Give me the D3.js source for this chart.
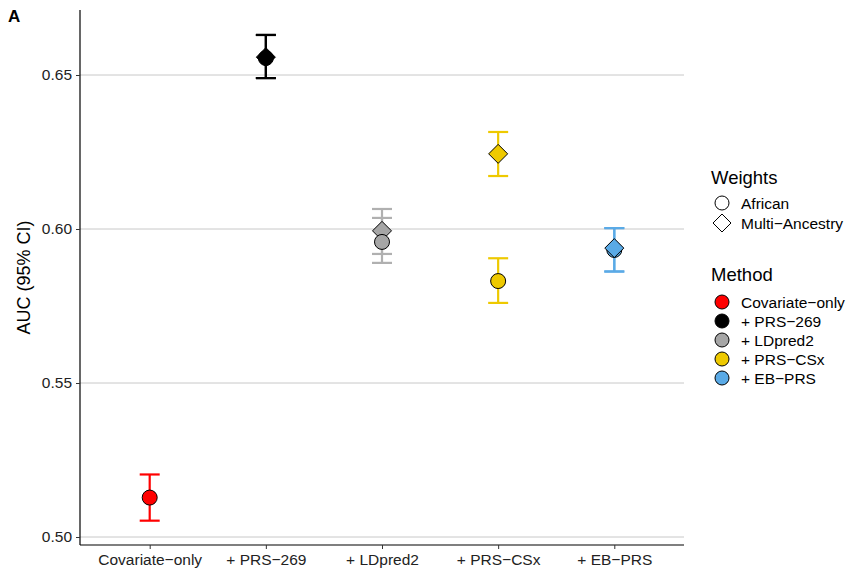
<!DOCTYPE html>
<html><head><meta charset="utf-8">
<script src="https://cdn.jsdelivr.net/npm/d3@7"></script>
<style>body{margin:0;background:#fff}text{font-family:"Liberation Sans",Arial,sans-serif}</style>
</head><body>
<script>
const categories = ["Covariate\u2212only", "+ PRS\u2212269", "+ LDpred2", "+ PRS\u2212CSx", "+ EB\u2212PRS"];
const methodColors = ["#FF0000", "#000000", "#A6A6A6", "#EEC900", "#5AAAE6"];
const barColors = ["#FF0000", "#000000", "#B0B0B0", "#EEC900", "#5AAAE6"];
const weightsLabels = ["African", "Multi\u2212Ancestry"];
const yTicks = [0.50, 0.55, 0.60, 0.65];
// rows: category index, weight (0 African, 1 Multi), auc, lower, upper (draw order)
const rowCat    = [0, 1, 1, 2, 2, 3, 3, 4, 4];
const rowWeight = [0, 0, 1, 1, 0, 1, 0, 0, 1];
const rowAUC    = [0.5128, 0.6555, 0.6558, 0.5994, 0.5958, 0.6244, 0.5831, 0.5932, 0.5938];
const rowLow    = [0.5053, 0.6490, 0.6490, 0.5919, 0.5890, 0.6172, 0.5760, 0.5862, 0.5862];
const rowHigh   = [0.5203, 0.6630, 0.6630, 0.6065, 0.6036, 0.6315, 0.5905, 0.6003, 0.6003];

const W = 851, H = 575;
const svg = d3.select("body").append("svg").attr("width", W).attr("height", H);
const L = 80, R = 684, T = 10, B = 545;
const x = d3.scalePoint().domain(categories).range([L, R]).padding(0.6);
const y = d3.scaleLinear().domain([0.5 - 8/3080, 0.5 + 527/3080]).range([B, T]);

// gridlines
svg.append("g").selectAll("line").data(yTicks).join("line")
  .attr("x1", L).attr("x2", R).attr("y1", d => y(d)).attr("y2", d => y(d))
  .attr("stroke", "#c8c8c8").attr("stroke-width", 1);

// axes
const yAxis = svg.append("g").attr("transform", `translate(${L},0)`)
  .call(d3.axisLeft(y).tickValues(yTicks).tickFormat(d3.format(".2f")).tickSize(4).tickPadding(4));
const xAxis = svg.append("g").attr("transform", `translate(0,${B})`)
  .call(d3.axisBottom(x).tickSize(4).tickPadding(5));
[yAxis, xAxis].forEach(g => {
  g.select(".domain").attr("stroke", "#000").attr("stroke-width", 1.2);
  g.selectAll(".tick line").attr("stroke", "#333");
  g.selectAll("text").attr("fill", "#222").style("font-size", "15.5px").style("font-family", "Liberation Sans, Arial, sans-serif");
});
xAxis.select(".domain").attr("d", `M${L},0H${R}`);
yAxis.select(".domain").attr("d", `M0,${T}V${B}`);

// y title
svg.append("text").attr("transform", `translate(30,${(T + B) / 2}) rotate(-90)`)
  .attr("text-anchor", "middle").style("font-size", "18px").attr("fill", "#000").text("AUC (95% CI)");
svg.append("text").attr("x", 8).attr("y", 22).style("font-size", "17px").style("font-weight", "bold").text("A");

const rows = rowCat.map((c, i) => ({c, w: rowWeight[i], v: rowAUC[i], lo: rowLow[i], hi: rowHigh[i]}));
const cap = 10;
const eb = svg.append("g");
rows.forEach(r => {
  const cx = x(categories[r.c]), col = barColors[r.c];
  const g = eb.append("g").attr("stroke", col).attr("stroke-width", 2.2).attr("fill", "none");
  g.append("line").attr("x1", cx).attr("x2", cx).attr("y1", y(r.lo)).attr("y2", y(r.hi));
  g.append("line").attr("x1", cx - cap).attr("x2", cx + cap).attr("y1", y(r.lo)).attr("y2", y(r.lo));
  g.append("line").attr("x1", cx - cap).attr("x2", cx + cap).attr("y1", y(r.hi)).attr("y2", y(r.hi));
});
const diamond = s => `M0,${-s}L${s},0L0,${s}L${-s},0Z`;
const pts = svg.append("g");
rows.forEach(r => {
  const cx = x(categories[r.c]), cy = y(r.v);
  const fill = methodColors[r.c];
  if (r.w === 0) {
    pts.append("circle").attr("cx", cx).attr("cy", cy).attr("r", 7.5)
      .attr("fill", fill).attr("stroke", "#000").attr("stroke-width", 1);
  } else {
    pts.append("path").attr("d", diamond(9.5)).attr("transform", `translate(${cx},${cy})`)
      .attr("fill", fill).attr("stroke", "#000").attr("stroke-width", 1);
  }
});

// legend
const lg = svg.append("g");
lg.append("text").attr("x", 711).attr("y", 184).style("font-size", "18.5px").text("Weights");
weightsLabels.forEach((lab, i) => {
  const cy = 203 + i * 20;
  if (i === 0) lg.append("circle").attr("cx", 722).attr("cy", cy).attr("r", 7).attr("fill", "#fff").attr("stroke", "#000");
  else lg.append("path").attr("d", diamond(9)).attr("transform", `translate(722,${cy})`).attr("fill", "#fff").attr("stroke", "#000");
  lg.append("text").attr("x", 741).attr("y", cy + 5.5).style("font-size", "15.5px").text(lab);
});
lg.append("text").attr("x", 711).attr("y", 281).style("font-size", "18.5px").text("Method");
categories.forEach((lab, i) => {
  const cy = 302 + i * 19;
  lg.append("circle").attr("cx", 722).attr("cy", cy).attr("r", 7).attr("fill", methodColors[i]).attr("stroke", "#000");
  lg.append("text").attr("x", 741).attr("y", cy + 5.5).style("font-size", "15.5px").text(lab);
});
</script>
</body></html>
